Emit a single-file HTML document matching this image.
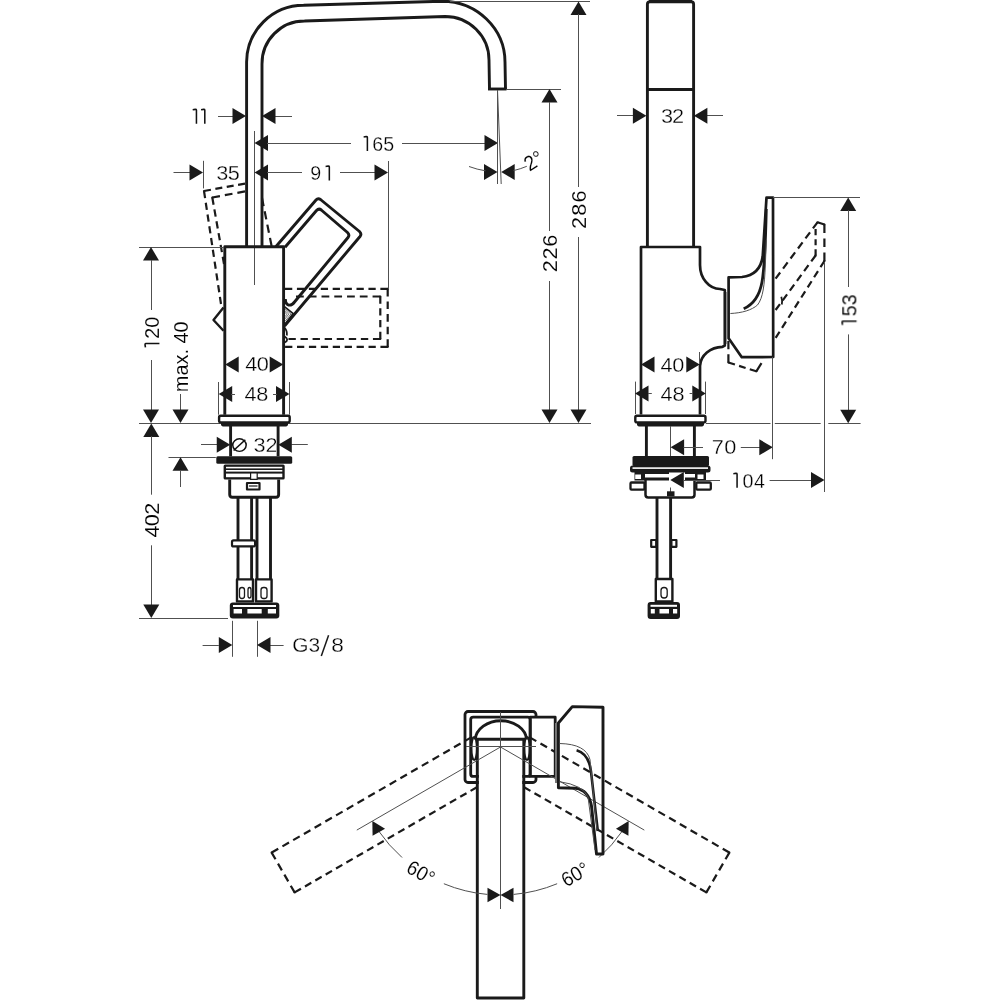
<!DOCTYPE html>
<html><head><meta charset="utf-8"><style>
html,body{margin:0;padding:0;background:#fff;width:1000px;height:1000px;overflow:hidden}
svg{display:block}
text{font-family:"Liberation Sans",sans-serif;fill:#000;stroke:#fff;stroke-width:0.3px}
</style></head><body>
<svg width="1000" height="1000" viewBox="0 0 1000 1000" stroke="#1a1a1a" stroke-linecap="butt" stroke-linejoin="round">
<rect x="0" y="0" width="1000" height="1000" fill="#fff" stroke="none"/>
<path d="M246.6 247 L246.6 62 A57 57 0 0 1 303.6 5.3 L442 1.2 A63 61 0 0 1 505 62 L505.5 89" stroke-width="2.9" fill="none" />
<path d="M262 247 L262 64 A42.5 42.5 0 0 1 304.5 21 L445 16.5 A44 43.5 0 0 1 489 60 L489.5 89.5" stroke-width="2.9" fill="none" />
<path d="M488 89 L506.5 89" stroke-width="2.9" fill="none" />
<line x1="254.5" y1="131" x2="254.5" y2="285" stroke-width="1.0" stroke="#505050" />
<path d="M224.8 414.7 L224.8 246.8 L283.6 246.8 L283.6 414.7" stroke-width="2.9" fill="none" />
<path d="M276 246.5 L316 200 Q318 197.6 320.5 199.5 L359.5 231.5 Q362 234 360 236.5 L284.5 326" stroke-width="2.9" fill="none" />
<path d="M285 247.2 L316.5 210.5 Q318.8 208 321.3 210 L347.5 232.5 Q350 235 348 237.5 L294.5 302 Q291 306.5 287.5 304.5 Q285.3 303 285.3 299" stroke-width="2.9" fill="none" />
<path d="M223.5 307.5 L213.5 320 L223.5 330.8" stroke-width="2.4" fill="none" />
<path d="M284.4 306.6 L293.2 313.6 L285 324.2" stroke-width="1.8" fill="none" />
<path d="M284.8 308.7 L290.9 314.0 L285 321.4" stroke-width="0.8" fill="none" stroke="#505050" />
<path d="M284.8 310.6 L288.8 314.1 L285 318.9" stroke-width="0.8" fill="none" stroke="#505050" />
<path d="M284.8 312.3 L286.9 314.3 L285 316.7" stroke-width="0.8" fill="none" stroke="#505050" />
<path d="M284.5 327.5 Q287.5 331 286.8 335.5 M284.6 336.5 Q289.5 339.5 285 342.5" stroke-width="1.8" fill="none" />
<line x1="245.00" y1="183.60" x2="204.00" y2="191.00" stroke-width="2.2" stroke-dasharray="7.04 4.50"/>
<line x1="204.00" y1="191.00" x2="221.00" y2="304.00" stroke-width="2.2" stroke-dasharray="7.25 4.64"/>
<circle cx="204.00" cy="191.00" r="1.10" fill="#1a1a1a" stroke="none"/>
<line x1="245.00" y1="191.40" x2="212.30" y2="197.50" stroke-width="2.2" stroke-dasharray="7.77 4.97"/>
<line x1="212.30" y1="197.50" x2="224.00" y2="264.00" stroke-width="2.2" stroke-dasharray="7.34 4.70"/>
<circle cx="212.30" cy="197.50" r="1.10" fill="#1a1a1a" stroke="none"/>
<line x1="262.00" y1="198.00" x2="271.60" y2="246.00" stroke-width="2.2" stroke-dasharray="8.27 5.29"/>
<line x1="285.00" y1="288.80" x2="387.70" y2="288.80" stroke-width="2.2" stroke-dasharray="7.27 4.65"/>
<line x1="387.70" y1="288.80" x2="387.70" y2="346.90" stroke-width="2.2" stroke-dasharray="7.69 4.92"/>
<line x1="387.70" y1="346.90" x2="285.00" y2="346.90" stroke-width="2.2" stroke-dasharray="7.27 4.65"/>
<circle cx="387.70" cy="288.80" r="1.10" fill="#1a1a1a" stroke="none"/>
<circle cx="387.70" cy="346.90" r="1.10" fill="#1a1a1a" stroke="none"/>
<line x1="296.00" y1="296.50" x2="380.30" y2="296.50" stroke-width="2.2" stroke-dasharray="7.78 4.98"/>
<line x1="380.30" y1="296.50" x2="380.30" y2="339.00" stroke-width="2.2" stroke-dasharray="7.18 4.59"/>
<line x1="380.30" y1="339.00" x2="288.50" y2="339.00" stroke-width="2.2" stroke-dasharray="7.36 4.71"/>
<circle cx="380.30" cy="296.50" r="1.10" fill="#1a1a1a" stroke="none"/>
<circle cx="380.30" cy="339.00" r="1.10" fill="#1a1a1a" stroke="none"/>
<line x1="388.5" y1="161" x2="388.5" y2="289" stroke-width="1.0" stroke="#505050" />
<line x1="218" y1="116.5" x2="233" y2="116.5" stroke-width="1.0" stroke="#505050" />
<polygon points="246.00,116.00 232.50,124.00 232.50,108.00" fill="#1a1a1a" stroke="none"/>
<line x1="275" y1="116.5" x2="292" y2="116.5" stroke-width="1.0" stroke="#505050" />
<polygon points="262.00,116.00 275.50,108.00 275.50,124.00" fill="#1a1a1a" stroke="none"/>
<polygon points="254.50,143.00 268.00,135.00 268.00,151.00" fill="#1a1a1a" stroke="none"/>
<line x1="267" y1="143.5" x2="351" y2="143.5" stroke-width="1.0" stroke="#505050" />
<line x1="402" y1="143.5" x2="485" y2="143.5" stroke-width="1.0" stroke="#505050" />
<polygon points="498.00,143.00 484.50,151.00 484.50,135.00" fill="#1a1a1a" stroke="none"/>
<polygon points="254.50,172.50 268.00,164.50 268.00,180.50" fill="#1a1a1a" stroke="none"/>
<line x1="267" y1="172.5" x2="302" y2="172.5" stroke-width="1.0" stroke="#505050" />
<line x1="340" y1="172.5" x2="375" y2="172.5" stroke-width="1.0" stroke="#505050" />
<polygon points="388.00,172.50 374.50,180.50 374.50,164.50" fill="#1a1a1a" stroke="none"/>
<line x1="173.5" y1="172.5" x2="190" y2="172.5" stroke-width="1.0" stroke="#505050" />
<polygon points="203.00,172.50 189.50,180.50 189.50,164.50" fill="#1a1a1a" stroke="none"/>
<line x1="203.5" y1="160.8" x2="203.5" y2="188.4" stroke-width="1.0" stroke="#505050" />
<line x1="497.5" y1="90" x2="497.5" y2="184" stroke-width="1.0" stroke="#505050" />
<line x1="497.5" y1="90" x2="501.2" y2="184" stroke-width="1.0" stroke="#505050" />
<polygon points="497.50,172.00 484.00,180.00 484.00,164.00" fill="#1a1a1a" stroke="none"/>
<polygon points="501.20,172.00 514.70,164.00 514.70,180.00" fill="#1a1a1a" stroke="none"/>
<path d="M469 166.5 A81.7 81.7 0 0 0 485.5 170.8" stroke-width="1.0" fill="none" stroke="#505050" />
<path d="M513.5 170.6 A81.7 81.7 0 0 0 526.8 166.3" stroke-width="1.0" fill="none" stroke="#505050" />
<line x1="506" y1="89.5" x2="561" y2="89.5" stroke-width="1.0" stroke="#505050" />
<line x1="450" y1="1.5" x2="590" y2="1.5" stroke-width="1.0" stroke="#505050" />
<polygon points="549.50,89.00 557.50,102.50 541.50,102.50" fill="#1a1a1a" stroke="none"/>
<line x1="549.5" y1="102" x2="549.5" y2="231" stroke-width="1.0" stroke="#505050" />
<line x1="549.5" y1="281" x2="549.5" y2="410" stroke-width="1.0" stroke="#505050" />
<polygon points="549.50,423.00 541.50,409.50 557.50,409.50" fill="#1a1a1a" stroke="none"/>
<polygon points="578.50,1.50 586.50,15.00 570.50,15.00" fill="#1a1a1a" stroke="none"/>
<line x1="578.5" y1="14" x2="578.5" y2="187" stroke-width="1.0" stroke="#505050" />
<line x1="578.5" y1="237" x2="578.5" y2="410" stroke-width="1.0" stroke="#505050" />
<polygon points="578.50,423.00 570.50,409.50 586.50,409.50" fill="#1a1a1a" stroke="none"/>
<line x1="139" y1="247.5" x2="224" y2="247.5" stroke-width="1.0" stroke="#505050" />
<polygon points="151.00,247.00 159.00,260.50 143.00,260.50" fill="#1a1a1a" stroke="none"/>
<line x1="151.5" y1="260" x2="151.5" y2="310" stroke-width="1.0" stroke="#505050" />
<line x1="151.5" y1="360" x2="151.5" y2="410" stroke-width="1.0" stroke="#505050" />
<polygon points="151.00,423.00 143.00,409.50 159.00,409.50" fill="#1a1a1a" stroke="none"/>
<line x1="180.5" y1="394" x2="180.5" y2="410" stroke-width="1.0" stroke="#505050" />
<polygon points="180.50,423.00 172.50,409.50 188.50,409.50" fill="#1a1a1a" stroke="none"/>
<line x1="168.5" y1="457.5" x2="215.8" y2="457.5" stroke-width="1.0" stroke="#505050" />
<polygon points="180.50,457.30 188.50,470.80 172.50,470.80" fill="#1a1a1a" stroke="none"/>
<line x1="180.5" y1="470" x2="180.5" y2="487" stroke-width="1.0" stroke="#505050" />
<line x1="139" y1="423.5" x2="591" y2="423.5" stroke-width="1.0" stroke="#505050" />
<polygon points="151.30,423.60 159.30,437.10 143.30,437.10" fill="#1a1a1a" stroke="none"/>
<line x1="151.5" y1="436" x2="151.5" y2="494.7" stroke-width="1.0" stroke="#505050" />
<line x1="151.5" y1="545.3" x2="151.5" y2="605" stroke-width="1.0" stroke="#505050" />
<polygon points="151.30,618.00 143.30,604.50 159.30,604.50" fill="#1a1a1a" stroke="none"/>
<line x1="139" y1="618.5" x2="228" y2="618.5" stroke-width="1.0" stroke="#505050" />
<polygon points="225.20,364.50 238.70,356.50 238.70,372.50" fill="#1a1a1a" stroke="none"/>
<polygon points="283.20,364.50 269.70,372.50 269.70,356.50" fill="#1a1a1a" stroke="none"/>
<line x1="218.5" y1="382" x2="218.5" y2="414.7" stroke-width="1.0" stroke="#505050" />
<line x1="289.5" y1="382" x2="289.5" y2="414.7" stroke-width="1.0" stroke="#505050" />
<polygon points="218.70,394.00 232.20,386.00 232.20,402.00" fill="#1a1a1a" stroke="none"/>
<line x1="231" y1="394.5" x2="235" y2="394.5" stroke-width="1.0" stroke="#505050" />
<polygon points="289.50,394.00 276.00,402.00 276.00,386.00" fill="#1a1a1a" stroke="none"/>
<line x1="273" y1="394.5" x2="277" y2="394.5" stroke-width="1.0" stroke="#505050" />
<rect x="221" y="421" width="67" height="5.4" rx="1.8" fill="#1a1a1a" stroke="none"/>
<rect x="219.1" y="415.8" width="70.6" height="6.6" rx="1.6" fill="#fff" stroke="#1a1a1a" stroke-width="2.4"/>
<line x1="230.6" y1="426" x2="230.6" y2="456.3" stroke-width="2.9" />
<line x1="278.1" y1="426" x2="278.1" y2="456.3" stroke-width="2.9" />
<line x1="201" y1="444.5" x2="217.6" y2="444.5" stroke-width="1.0" stroke="#505050" />
<polygon points="230.25,444.75 216.75,452.75 216.75,436.75" fill="#1a1a1a" stroke="none"/>
<line x1="291.3" y1="444.5" x2="307.8" y2="444.5" stroke-width="1.0" stroke="#505050" />
<polygon points="278.30,444.75 291.80,436.75 291.80,452.75" fill="#1a1a1a" stroke="none"/>
<rect x="216.3" y="456.3" width="75.9" height="7.4" rx="1.5" fill="#1a1a1a" stroke="none"/>
<rect x="223.6" y="464.5" width="61.1" height="15" rx="1.5" fill="#1a1a1a" stroke="none"/>
<rect x="226" y="466.8" width="56.3" height="1.6" fill="#fff" stroke="none"/>
<rect x="226" y="470" width="56.3" height="1.6" fill="#fff" stroke="none"/>
<rect x="226" y="473.6" width="56.3" height="3.6" fill="#fff" stroke="none"/>
<rect x="250.6" y="473" width="6.6" height="6.4" fill="#fff" stroke="#1a1a1a" stroke-width="1.2"/>
<path d="M229.7 479.4 L229.7 494.5 Q229.7 497.2 232.4 497.2 L276 497.2 Q278.65 497.2 278.65 494.5 L278.65 479.4" stroke-width="2.9" fill="none" />
<rect x="247" y="483" width="12.5" height="6.5" fill="#fff" stroke="#1a1a1a" stroke-width="2.2"/>
<line x1="249" y1="486" x2="257.5" y2="486" stroke-width="1.2" />
<line x1="238" y1="497" x2="238" y2="580" stroke-width="2.9" />
<line x1="251.6" y1="497" x2="251.6" y2="580" stroke-width="2.9" />
<line x1="257" y1="497" x2="257" y2="580" stroke-width="2.9" />
<line x1="270.5" y1="497" x2="270.5" y2="580" stroke-width="2.9" />
<rect x="232" y="540.4" width="23.1" height="6" rx="1.5" fill="#fff" stroke="#1a1a1a" stroke-width="2.2"/>
<rect x="237" y="579.4" width="16" height="22" fill="#fff" stroke="#1a1a1a" stroke-width="2.4"/>
<rect x="256" y="579.4" width="15.6" height="22" fill="#fff" stroke="#1a1a1a" stroke-width="2.4"/>
<rect x="239.5" y="587.5" width="5" height="11" rx="2.5" fill="none" stroke="#1a1a1a" stroke-width="1.3"/>
<rect x="248" y="587.5" width="3" height="10.5" rx="2.5" fill="none" stroke="#1a1a1a" stroke-width="1.3"/>
<rect x="261" y="587.5" width="6" height="11" rx="2.5" fill="none" stroke="#1a1a1a" stroke-width="1.3"/>
<rect x="229.8" y="602.5" width="49.5" height="16" rx="3" fill="#1a1a1a" stroke="none"/>
<rect x="233" y="605" width="43" height="2" fill="#fff" stroke="none"/>
<rect x="233.6" y="609" width="8.4" height="4.5" fill="#fff" stroke="none"/>
<rect x="247.4" y="609" width="14.3" height="4.5" fill="#fff" stroke="none"/>
<rect x="267.8" y="609" width="8.2" height="4.5" fill="#fff" stroke="none"/>
<line x1="232.5" y1="620.8" x2="232.5" y2="656.8" stroke-width="1.0" stroke="#505050" />
<line x1="257.5" y1="620.8" x2="257.5" y2="656.8" stroke-width="1.0" stroke="#505050" />
<line x1="202.6" y1="645.5" x2="218.8" y2="645.5" stroke-width="1.0" stroke="#505050" />
<polygon points="232.30,645.00 218.80,653.00 218.80,637.00" fill="#1a1a1a" stroke="none"/>
<line x1="270" y1="645.5" x2="283.6" y2="645.5" stroke-width="1.0" stroke="#505050" />
<polygon points="257.00,645.00 270.50,637.00 270.50,653.00" fill="#1a1a1a" stroke="none"/>
<line x1="321.3" y1="656" x2="328.6" y2="635.3" stroke-width="1.5" />
<path d="M647.4 246.9 L647.4 4.2 Q647.4 1.6 650 1.6 L691 1.6 Q693.6 1.6 693.6 4.2 L693.6 246.9" stroke-width="2.9" fill="none" />
<line x1="649" y1="1.6" x2="692" y2="1.6" stroke-width="3.2" />
<line x1="647.4" y1="89.5" x2="693.6" y2="89.5" stroke-width="2.9" />
<path d="M641 414.5 L641 247 L700 247 L700 265 A20 24 0 0 0 720 289 L724.8 290 L724.8 345.6 L722.5 346.8 A23 20 0 0 0 700 366 L700 414.5" stroke-width="2.7" fill="none" />
<path d="M728.6 277.4 L742 277 Q760 275 762.7 256.5 L766.5 197.6 L773 197.6 L773.2 357 L741.8 357.2 L728.6 338.2 Z" stroke-width="2.7" fill="none" />
<line x1="726.6" y1="292" x2="726.6" y2="344" stroke-width="0.6" stroke="#505050" />
<path d="M766.3 209 C765.6 240 764.5 268 762 282 C759.5 296 752 305 743.7 308.8" stroke-width="2.8" fill="none" />
<path d="M730.4 313.5 C742 313 752 310 757.5 305 C763 298 764.5 285 765.3 266 L766.3 240" stroke-width="1.0" fill="none" stroke="#505050" />
<line x1="775.60" y1="278.60" x2="817.50" y2="222.30" stroke-width="2.2" stroke-dasharray="7.63 4.88"/>
<line x1="817.50" y1="222.30" x2="824.40" y2="224.50" stroke-width="2.2"/>
<line x1="824.40" y1="224.50" x2="824.40" y2="261.00" stroke-width="2.2" stroke-dasharray="8.53 5.46"/>
<line x1="824.40" y1="261.00" x2="775.60" y2="338.00" stroke-width="2.2" stroke-dasharray="7.30 4.67"/>
<circle cx="817.50" cy="222.30" r="1.10" fill="#1a1a1a" stroke="none"/>
<circle cx="824.40" cy="224.50" r="1.10" fill="#1a1a1a" stroke="none"/>
<circle cx="824.40" cy="261.00" r="1.10" fill="#1a1a1a" stroke="none"/>
<line x1="775.60" y1="310.00" x2="815.60" y2="255.50" stroke-width="2.2" stroke-dasharray="7.35 4.70"/>
<line x1="815.60" y1="255.50" x2="815.60" y2="229.00" stroke-width="2.2" stroke-dasharray="6.19 3.96"/>
<circle cx="815.60" cy="255.50" r="1.10" fill="#1a1a1a" stroke="none"/>
<path d="M781.3 296.8 Q782.6 301 781.8 304.5" stroke-width="1.8" fill="none" />
<line x1="728.40" y1="341.00" x2="728.40" y2="362.50" stroke-width="2.2" stroke-dasharray="8.14 5.21"/>
<line x1="728.40" y1="362.50" x2="756.30" y2="371.30" stroke-width="2.2" stroke-dasharray="6.84 4.37"/>
<line x1="756.30" y1="371.30" x2="761.50" y2="363.20" stroke-width="2.2"/>
<circle cx="728.40" cy="362.50" r="1.10" fill="#1a1a1a" stroke="none"/>
<circle cx="756.30" cy="371.30" r="1.10" fill="#1a1a1a" stroke="none"/>
<line x1="617" y1="115.5" x2="634" y2="115.5" stroke-width="1.0" stroke="#505050" />
<polygon points="646.40,115.70 632.90,123.70 632.90,107.70" fill="#1a1a1a" stroke="none"/>
<line x1="707" y1="115.5" x2="723" y2="115.5" stroke-width="1.0" stroke="#505050" />
<polygon points="693.90,115.70 707.40,107.70 707.40,123.70" fill="#1a1a1a" stroke="none"/>
<line x1="773" y1="197.5" x2="860" y2="197.5" stroke-width="1.0" stroke="#505050" />
<polygon points="848.20,197.60 856.20,211.10 840.20,211.10" fill="#1a1a1a" stroke="none"/>
<line x1="848.5" y1="210" x2="848.5" y2="287" stroke-width="1.0" stroke="#505050" />
<line x1="848.5" y1="334.4" x2="848.5" y2="410" stroke-width="1.0" stroke="#505050" />
<polygon points="848.20,423.20 840.20,409.70 856.20,409.70" fill="#1a1a1a" stroke="none"/>
<polygon points="641.00,364.60 654.50,356.60 654.50,372.60" fill="#1a1a1a" stroke="none"/>
<polygon points="699.80,364.60 686.30,372.60 686.30,356.60" fill="#1a1a1a" stroke="none"/>
<line x1="699.5" y1="352" x2="699.5" y2="364" stroke-width="1.0" stroke="#505050" />
<line x1="635.5" y1="381.6" x2="635.5" y2="414" stroke-width="1.0" stroke="#505050" />
<line x1="705.5" y1="381.6" x2="705.5" y2="414" stroke-width="1.0" stroke="#505050" />
<polygon points="635.00,393.60 648.50,385.60 648.50,401.60" fill="#1a1a1a" stroke="none"/>
<line x1="648" y1="393.5" x2="651.8" y2="393.5" stroke-width="1.0" stroke="#505050" />
<polygon points="705.80,393.60 692.30,401.60 692.30,385.60" fill="#1a1a1a" stroke="none"/>
<line x1="689.6" y1="393.5" x2="692.8" y2="393.5" stroke-width="1.0" stroke="#505050" />
<line x1="706" y1="423.5" x2="770.5" y2="423.5" stroke-width="1.0" stroke="#505050" />
<line x1="774.8" y1="423.5" x2="820.7" y2="423.5" stroke-width="1.0" stroke="#505050" />
<line x1="828.3" y1="423.5" x2="860.6" y2="423.5" stroke-width="1.0" stroke="#505050" />
<rect x="637" y="421" width="67" height="5.4" rx="1.8" fill="#1a1a1a" stroke="none"/>
<rect x="635.3" y="415.8" width="70.2" height="6.6" rx="1.6" fill="#fff" stroke="#1a1a1a" stroke-width="2.4"/>
<line x1="646.4" y1="426" x2="646.4" y2="456" stroke-width="2.9" />
<line x1="694.4" y1="426" x2="694.4" y2="456" stroke-width="2.9" />
<line x1="670.5" y1="426" x2="670.5" y2="492" stroke-width="1.0" stroke="#505050" />
<polygon points="670.60,447.30 684.10,439.30 684.10,455.30" fill="#1a1a1a" stroke="none"/>
<line x1="683.5" y1="447.5" x2="703" y2="447.5" stroke-width="1.0" stroke="#505050" />
<line x1="740.8" y1="447.5" x2="760" y2="447.5" stroke-width="1.0" stroke="#505050" />
<polygon points="772.80,447.30 759.30,455.30 759.30,439.30" fill="#1a1a1a" stroke="none"/>
<line x1="772.5" y1="357" x2="772.5" y2="459.2" stroke-width="1.0" stroke="#505050" />
<rect x="632.5" y="456" width="76.5" height="10" rx="1.5" fill="#1a1a1a" stroke="none"/>
<rect x="630" y="465.5" width="80.5" height="7" rx="2.5" fill="#1a1a1a" stroke="none"/>
<rect x="632.5" y="467.3" width="75.5" height="1.6" fill="#fff" stroke="none"/>
<rect x="634.5" y="472" width="71.5" height="8.5" fill="#1a1a1a" stroke="none"/>
<rect x="635.2" y="474.5" width="5.8" height="4.5" fill="#fff" stroke="none"/>
<rect x="697.5" y="474.5" width="6" height="4.5" fill="#fff" stroke="none"/>
<rect x="645" y="474" width="50" height="3.5" fill="#fff" stroke="none"/>
<rect x="630.5" y="482.5" width="14" height="7.2" rx="1" fill="#fff" stroke="#1a1a1a" stroke-width="2.3"/>
<rect x="696.3" y="482.5" width="14.5" height="7.2" rx="1" fill="#fff" stroke="#1a1a1a" stroke-width="2.3"/>
<path d="M645.5 479 L645.5 494.8 Q645.5 497.5 648.2 497.5 L691.8 497.5 Q694.5 497.5 694.5 494.8 L694.5 479" stroke-width="2.5" fill="none" />
<rect x="667" y="491.3" width="7.5" height="5" fill="#1a1a1a" stroke="none"/>
<rect x="669" y="472.5" width="16" height="15" fill="#fff" stroke="none"/>
<polygon points="670.30,480.00 683.80,472.00 683.80,488.00" fill="#1a1a1a" stroke="none"/>
<line x1="683.5" y1="480.5" x2="720" y2="480.5" stroke-width="1.0" stroke="#505050" />
<line x1="769.6" y1="480.5" x2="812" y2="480.5" stroke-width="1.0" stroke="#505050" />
<polygon points="824.50,480.00 811.00,488.00 811.00,472.00" fill="#1a1a1a" stroke="none"/>
<line x1="824.5" y1="262" x2="824.5" y2="492" stroke-width="1.0" stroke="#505050" />
<line x1="657" y1="497.5" x2="657" y2="579" stroke-width="2.9" />
<line x1="670.6" y1="497.5" x2="670.6" y2="579" stroke-width="2.9" />
<rect x="651.2" y="540" width="5" height="6.8" fill="#fff" stroke="#1a1a1a" stroke-width="2.2"/>
<rect x="671.4" y="540" width="5" height="6.8" fill="#fff" stroke="#1a1a1a" stroke-width="2.2"/>
<rect x="655.8" y="579" width="16.6" height="22.4" fill="#fff" stroke="#1a1a1a" stroke-width="2.4"/>
<rect x="661" y="587.5" width="6.2" height="10.5" rx="3" fill="none" stroke="#1a1a1a" stroke-width="1.3"/>
<rect x="647.6" y="602" width="32.4" height="17" rx="3" fill="#1a1a1a" stroke="none"/>
<rect x="650.5" y="604.8" width="26.5" height="2" fill="#fff" stroke="none"/>
<rect x="650.8" y="609" width="4" height="4.5" fill="#fff" stroke="none"/>
<rect x="659.5" y="609" width="9.5" height="4.5" fill="#fff" stroke="none"/>
<rect x="673" y="609" width="4.2" height="4.5" fill="#fff" stroke="none"/>
<rect x="465" y="711.5" width="71" height="71" rx="3" fill="none" stroke="#1a1a1a" stroke-width="2.8"/>
<rect x="530.2" y="717.2" width="25" height="59.2" fill="#fff" stroke="#1a1a1a" stroke-width="2.8"/>
<rect x="470.7" y="717.2" width="59.5" height="59.2" rx="2.5" fill="none" stroke="#1a1a1a" stroke-width="2.8"/>
<rect x="478.8" y="739" width="43.5" height="258" fill="#fff" stroke="none"/>
<path d="M477.3 739 L477.3 998 L523.8 998 L523.8 739" stroke-width="2.9" fill="none" />
<line x1="471.25" y1="737.33" x2="271.63" y2="852.58" stroke-width="2.2" stroke-dasharray="7.55 4.83"/>
<line x1="271.63" y1="852.58" x2="294.63" y2="892.42" stroke-width="2.2" stroke-dasharray="7.77 4.97"/>
<line x1="294.63" y1="892.42" x2="476.93" y2="787.17" stroke-width="2.2" stroke-dasharray="7.29 4.66"/>
<circle cx="271.63" cy="852.58" r="1.10" fill="#1a1a1a" stroke="none"/>
<circle cx="294.63" cy="892.42" r="1.10" fill="#1a1a1a" stroke="none"/>
<line x1="529.75" y1="737.33" x2="729.37" y2="852.58" stroke-width="2.2" stroke-dasharray="7.55 4.83"/>
<line x1="729.37" y1="852.58" x2="706.37" y2="892.42" stroke-width="2.2" stroke-dasharray="7.77 4.97"/>
<line x1="706.37" y1="892.42" x2="524.07" y2="787.17" stroke-width="2.2" stroke-dasharray="7.29 4.66"/>
<circle cx="729.37" cy="852.58" r="1.10" fill="#1a1a1a" stroke="none"/>
<circle cx="706.37" cy="892.42" r="1.10" fill="#1a1a1a" stroke="none"/>
<path d="M475.2 739.5 A25.75 20 0 0 1 526.6 739.5" stroke-width="2.9" fill="none" />
<line x1="476.5" y1="739.2" x2="525" y2="739.2" stroke-width="2.9" />
<ellipse cx="474.2" cy="748.5" rx="2.9" ry="11.5" fill="none" stroke="#1a1a1a" stroke-width="2.2"/>
<ellipse cx="527" cy="748.5" rx="2.9" ry="11.5" fill="none" stroke="#1a1a1a" stroke-width="2.2"/>
<line x1="466" y1="746.5" x2="536" y2="746.5" stroke-width="1.0" stroke="#505050" />
<line x1="500.5" y1="712" x2="500.5" y2="909" stroke-width="1.0" stroke="#505050" />
<line x1="500.5" y1="747" x2="356.8" y2="830.1" stroke-width="1.0" stroke="#505050" />
<line x1="500.5" y1="747" x2="644.3" y2="830.1" stroke-width="1.0" stroke="#505050" />
<path d="M378.53 830.83 A148 148 0 0 0 402.05 857.50" stroke-width="1.0" fill="none" stroke="#505050" />
<path d="M443.86 883.73 A148 148 0 0 0 487.34 894.41" stroke-width="1.0" fill="none" stroke="#505050" />
<path d="M622.47 830.83 A148 148 0 0 1 598.95 857.50" stroke-width="1.0" fill="none" stroke="#505050" />
<path d="M557.14 883.73 A148 148 0 0 1 513.66 894.41" stroke-width="1.0" fill="none" stroke="#505050" />
<polygon points="372.33,821.00 385.06,828.66 372.59,835.86" fill="#1a1a1a" stroke="none"/>
<polygon points="628.67,821.00 628.41,835.86 615.94,828.66" fill="#1a1a1a" stroke="none"/>
<polygon points="500.50,895.00 487.50,902.20 487.50,887.80" fill="#1a1a1a" stroke="none"/>
<polygon points="500.50,895.00 513.50,887.80 513.50,902.20" fill="#1a1a1a" stroke="none"/>
<rect x="555" y="723" width="3.4" height="60" fill="#777" stroke="none"/>
<path d="M558.4 723 L572.3 706.6 L603 707.2 L603 854 L596.5 854 L591.5 806 Q588.5 790 575.7 788.2 L558.4 787.7 Z" stroke-width="2.9" fill="none" />
<path d="M576.6 750.3 Q589 754 591 771.5 L597.8 831" stroke-width="2.6" fill="none" />
<path d="M559.6 743.5 Q586 744 590 759.6 L597 830" stroke-width="1.0" fill="none" stroke="#505050" />
<path d="M559.6 781.7 Q583 785 588 797 L595 850" stroke-width="1.0" fill="none" stroke="#505050" />
<g opacity="0.999"><g transform="translate(199.99,116.58) rotate(0) scale(0.97,1)"><path d="M-3.66 7.21 L-3.66 -6.58 Q-3.66 -7.19 -4.88 -7.19 L-7.52 -6.78" fill="none" stroke="#111" stroke-width="1.58" stroke-linejoin="round"/><path d="M4.96 7.21 L4.96 -6.58 Q4.96 -7.19 3.75 -7.19 L1.11 -6.78" fill="none" stroke="#111" stroke-width="1.58" stroke-linejoin="round"/></g>
<g transform="translate(377.79,143.71) rotate(0) scale(0.97,1)"><path d="M-10.73 7.21 L-10.73 -6.58 Q-10.73 -7.19 -11.95 -7.19 L-14.58 -6.78" fill="none" stroke="#111" stroke-width="1.58" stroke-linejoin="round"/><text x="-5.64" y="7.21" font-size="20.3">6</text><text x="5.73" y="7.21" font-size="20.3">5</text></g>
<g transform="translate(322.24,173.21) rotate(0) scale(0.97,1)"><text x="-12.30" y="7.21" font-size="20.3">9</text><path d="M7.31 7.21 L7.31 -6.58 Q7.31 -7.19 6.09 -7.19 L3.45 -6.78" fill="none" stroke="#111" stroke-width="1.58" stroke-linejoin="round"/></g>
<g transform="translate(228.05,172.29) rotate(0) scale(1.07,1)"><text x="-11.10" y="7.21" font-size="20.3">3</text><text x="-0.18" y="7.21" font-size="20.3">5</text></g>
<g transform="translate(533.5,160.5) rotate(-32) scale(0.93,1)"><text x="-10.04" y="7.46" font-size="21" style="stroke-width:0.12px">2</text><text x="1.64" y="7.46" font-size="21" style="stroke-width:0.12px">°</text></g>
<g transform="translate(549.3,253.5) rotate(-90) scale(1.07,1)"><text x="-17.61" y="7.21" font-size="20.3" style="stroke-width:0.12px">2</text><text x="-5.64" y="7.21" font-size="20.3" style="stroke-width:0.12px">2</text><text x="6.32" y="7.21" font-size="20.3" style="stroke-width:0.12px">6</text></g>
<g transform="translate(579.24,209.72) rotate(-90) scale(1.07,1)"><text x="-18.02" y="7.21" font-size="20.3" style="stroke-width:0.12px">2</text><text x="-5.64" y="7.21" font-size="20.3" style="stroke-width:0.12px">8</text><text x="6.73" y="7.21" font-size="20.3" style="stroke-width:0.12px">6</text></g>
<g transform="translate(152.22,333.23) rotate(-90) scale(0.97,1)"><path d="M-10.68 7.21 L-10.68 -6.58 Q-10.68 -7.19 -11.90 -7.19 L-14.53 -6.78" fill="none" stroke="#111" stroke-width="1.58" stroke-linejoin="round"/><text x="-5.64" y="7.21" font-size="20.3" style="stroke-width:0.12px">2</text><text x="5.68" y="7.21" font-size="20.3" style="stroke-width:0.12px">0</text></g>
<g transform="translate(180.8,356.8) rotate(-90) scale(0.98,1)"><text x="-36.10" y="7.21" font-size="20.3" style="stroke-width:0.12px">m</text><text x="-19.19" y="7.21" font-size="20.3" style="stroke-width:0.12px">a</text><text x="-7.91" y="7.21" font-size="20.3" style="stroke-width:0.12px">x</text><text x="2.24" y="7.21" font-size="20.3" style="stroke-width:0.12px">.</text><text x="13.53" y="7.21" font-size="20.3" style="stroke-width:0.12px">4</text><text x="24.82" y="7.21" font-size="20.3" style="stroke-width:0.12px">0</text></g>
<g transform="translate(151.4,520.13) rotate(-90) scale(1.07,1)"><text x="-16.31" y="7.21" font-size="20.3" style="stroke-width:0.12px">4</text><text x="-5.64" y="7.21" font-size="20.3" style="stroke-width:0.12px">0</text><text x="5.02" y="7.21" font-size="20.3" style="stroke-width:0.12px">2</text></g>
<g transform="translate(257.06,364.14) rotate(0) scale(1.07,1)"><text x="-11.07" y="7.21" font-size="20.3">4</text><text x="-0.21" y="7.21" font-size="20.3">0</text></g>
<g transform="translate(256.45,394.0) rotate(0) scale(1.07,1)"><text x="-11.10" y="7.21" font-size="20.3">4</text><text x="-0.18" y="7.21" font-size="20.3">8</text></g>
<g transform="translate(254.2,445.12) rotate(0) scale(1.07,1)"><circle cx="-13.78" cy="0.00" r="6.29" fill="none" stroke="#111" stroke-width="1.42"/><path d="M-19.26 5.48 L-8.30 -5.48" stroke="#111" stroke-width="1.42"/><text x="-0.60" y="7.21" font-size="20.3">3</text><text x="10.61" y="7.21" font-size="20.3">2</text></g>
<g transform="translate(292.3,645) rotate(0) scale(1.03,1)"><text x="0.00" y="7.21" font-size="20.3">G</text><text x="15.79" y="7.21" font-size="20.3">3</text></g>
<g transform="translate(337.5,645) rotate(0) scale(1.12,1)"><text x="-5.64" y="7.21" font-size="20.3">8</text></g>
<g transform="translate(672.48,115.74) rotate(0) scale(1.07,1)"><text x="-10.72" y="7.21" font-size="20.3">3</text><text x="-0.57" y="7.21" font-size="20.3">2</text></g>
<g transform="translate(849.34,310.82) rotate(-90) scale(0.97,1)"><path d="M-10.71 7.21 L-10.71 -6.58 Q-10.71 -7.19 -11.93 -7.19 L-14.56 -6.78" fill="none" stroke="#111" stroke-width="1.58" stroke-linejoin="round"/><text x="-5.64" y="7.21" font-size="20.3" style="stroke-width:0.12px">5</text><text x="5.71" y="7.21" font-size="20.3" style="stroke-width:0.12px">3</text></g>
<g transform="translate(672.5,364.96) rotate(0) scale(1.07,1)"><text x="-11.14" y="7.21" font-size="20.3">4</text><text x="-0.15" y="7.21" font-size="20.3">0</text></g>
<g transform="translate(672.49,393.63) rotate(0) scale(1.07,1)"><text x="-11.21" y="7.21" font-size="20.3">4</text><text x="-0.08" y="7.21" font-size="20.3">8</text></g>
<g transform="translate(723.95,447.04) rotate(0) scale(1.07,1)"><text x="-11.49" y="7.21" font-size="20.3">7</text><text x="0.21" y="7.21" font-size="20.3">0</text></g>
<g transform="translate(747.93,480.5) rotate(0) scale(0.97,1)"><path d="M-11.19 7.21 L-11.19 -6.58 Q-11.19 -7.19 -12.41 -7.19 L-15.04 -6.78" fill="none" stroke="#111" stroke-width="1.58" stroke-linejoin="round"/><text x="-5.64" y="7.21" font-size="20.3">0</text><text x="6.19" y="7.21" font-size="20.3">4</text></g>
<g transform="translate(421,872.4) rotate(30) scale(0.93,1)"><text x="-15.35" y="7.21" font-size="20.3" style="stroke-width:0.12px">6</text><text x="-4.06" y="7.21" font-size="20.3" style="stroke-width:0.12px">0</text><text x="7.23" y="7.21" font-size="20.3" style="stroke-width:0.12px">°</text></g>
<g transform="translate(575,874) rotate(-30) scale(0.93,1)"><text x="-15.35" y="7.21" font-size="20.3" style="stroke-width:0.12px">6</text><text x="-4.06" y="7.21" font-size="20.3" style="stroke-width:0.12px">0</text><text x="7.23" y="7.21" font-size="20.3" style="stroke-width:0.12px">°</text></g></g>
</svg>
</body></html>
